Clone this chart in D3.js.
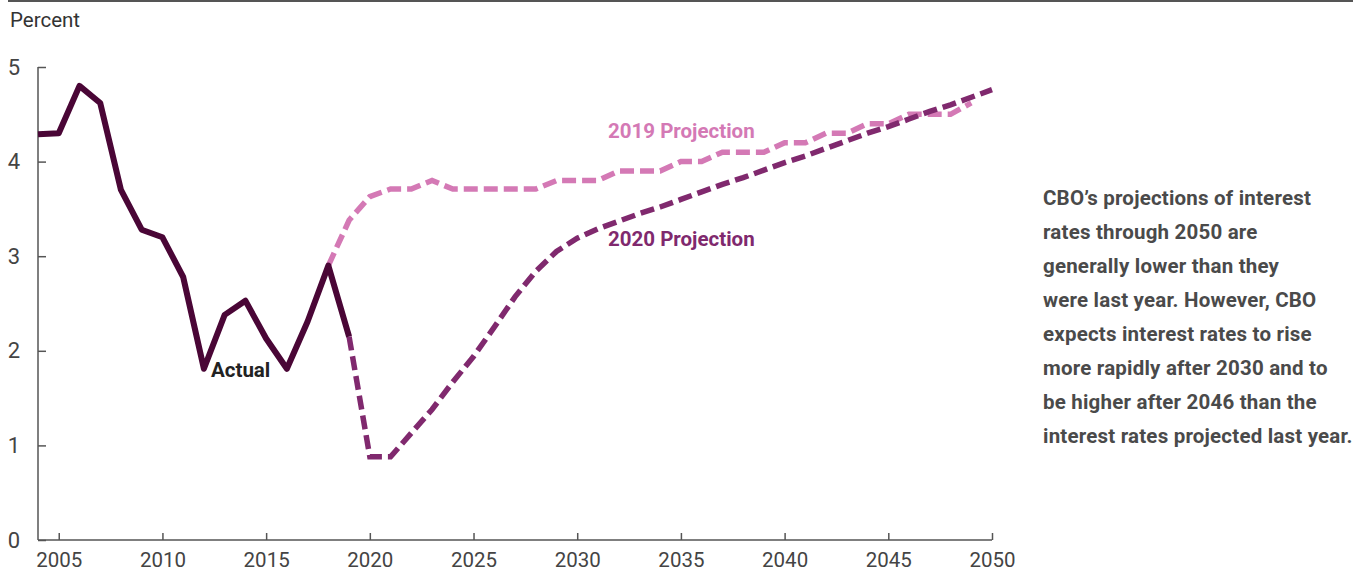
<!DOCTYPE html>
<html>
<head>
<meta charset="utf-8">
<script src="https://cdn.jsdelivr.net/npm/d3@7"></script>
<style>
    body { margin: 0; background: #fff; }
    text { font-family: Roboto, "Open Sans", sans-serif; }
    .axis path, .axis line { stroke: #555; stroke-width: 1.5; }
    .axis text { fill: #444; font-size: 20.5px; }
    .note { fill: #4a4a4a; font-size: 20.5px; font-weight: 700; letter-spacing: 0.2px; }
</style>
</head>
<body>
<script>
//wrap everything in a self-executing anonymous function
(function(){

//data
var actualYears = [2004, 2005, 2006, 2007, 2008, 2009, 2010, 2011, 2012, 2013, 2014, 2015, 2016, 2017, 2018, 2019];
var actualValues = [4.29, 4.3, 4.8, 4.62, 3.7, 3.28, 3.2, 2.78, 1.81, 2.38, 2.53, 2.13, 1.81, 2.31, 2.9, 2.15];

var proj2019Years = [2018, 2019, 2020, 2021, 2022, 2023, 2024, 2025, 2026, 2027, 2028, 2029, 2030, 2031, 2032, 2033,
    2034, 2035, 2036, 2037, 2038, 2039, 2040, 2041, 2042, 2043, 2044, 2045, 2046, 2047, 2048, 2049];
var proj2019Values = [2.9, 3.38, 3.63, 3.71, 3.71, 3.8, 3.71, 3.71, 3.71, 3.71, 3.71, 3.8, 3.8, 3.8, 3.9, 3.9,
    3.9, 4.0, 4.0, 4.1, 4.1, 4.1, 4.2, 4.2, 4.3, 4.3, 4.4, 4.4, 4.5, 4.5, 4.5, 4.62];

var proj2020Years = [2019, 2020, 2021, 2022, 2023, 2024, 2025, 2026, 2027, 2028, 2029, 2030, 2031, 2032, 2033, 2034,
    2035, 2036, 2037, 2038, 2039, 2040, 2041, 2042, 2043, 2044, 2045, 2046, 2047, 2048, 2049, 2050];
var proj2020Values = [2.15, 0.88, 0.88, 1.13, 1.38, 1.67, 1.94, 2.25, 2.57, 2.84, 3.05, 3.19, 3.29, 3.37, 3.45, 3.52,
    3.6, 3.68, 3.76, 3.83, 3.91, 3.99, 4.06, 4.14, 4.22, 4.3, 4.37, 4.45, 4.53, 4.6, 4.68, 4.76];

var xTicks = [2005, 2010, 2015, 2020, 2025, 2030, 2035, 2040, 2045, 2050];
var yTicks = [0, 1, 2, 3, 4, 5];

var noteLines = [
    "CBO\u2019s projections of interest",
    "rates through 2050 are",
    "generally lower than they",
    "were last year. However, CBO",
    "expects interest rates to rise",
    "more rapidly after 2030 and to",
    "be higher after 2046 than the",
    "interest rates projected last year."
];

window.onload = setChart();

function setChart(){
    //frame dimensions
    var width = 1353,
        height = 576;

    var svg = d3.select("body")
        .append("svg")
        .attr("width", width)
        .attr("height", height);

    //rule across the top
    svg.append("line")
        .attr("x1", 8)
        .attr("x2", width)
        .attr("y1", 1)
        .attr("y2", 1)
        .attr("stroke", "#555")
        .attr("stroke-width", 2);

    //scales
    var x = d3.scaleLinear()
        .domain([2004, 2050])
        .range([38, 992]);

    var y = d3.scaleLinear()
        .domain([0, 5])
        .range([540, 67]);

    //unit label
    svg.append("text")
        .attr("x", 10)
        .attr("y", 27)
        .attr("fill", "#333")
        .style("font-size", "20.5px")
        .text("Percent");

    //y axis, ticks point into the plot
    var yAxis = svg.append("g")
        .attr("class", "axis")
        .attr("transform", "translate(38,0)")
        .call(d3.axisRight(y).tickValues(yTicks).tickSize(8).tickSizeOuter(0).tickFormat(d3.format("d")));
    yAxis.select(".domain").remove();
    yAxis.append("line")
        .attr("y1", y(5))
        .attr("y2", y(0));
    yAxis.selectAll("text")
        .attr("x", -24)
        .attr("text-anchor", "middle")
        .style("font-size", "22px");

    //x axis, ticks point up
    var xAxis = svg.append("g")
        .attr("class", "axis")
        .attr("transform", "translate(0,540)")
        .call(d3.axisTop(x).tickValues(xTicks).tickSize(7).tickSizeOuter(0).tickFormat(d3.format("d")));
    xAxis.select(".domain").remove();
    xAxis.append("line")
        .attr("x1", x(2004))
        .attr("x2", x(2050));
    xAxis.selectAll("text")
        .attr("y", 27)
        .attr("dy", "0");

    //line generator
    var line = d3.line()
        .x(function(d){ return x(d[0]); })
        .y(function(d){ return y(d[1]); });

    function pairs(years, values){
        return years.map(function(yr, i){ return [yr, values[i]]; });
    };

    //2019 projection
    svg.append("path")
        .datum(pairs(proj2019Years, proj2019Values))
        .attr("fill", "none")
        .attr("stroke", "#d479b5")
        .attr("stroke-width", 5.5)
        .attr("stroke-dasharray", "14,6")
        .attr("d", line);

    //2020 projection
    svg.append("path")
        .datum(pairs(proj2020Years, proj2020Values))
        .attr("fill", "none")
        .attr("stroke", "#80296e")
        .attr("stroke-width", 5.5)
        .attr("stroke-dasharray", "14,6")
        .attr("d", line);

    //actual
    svg.append("path")
        .datum(pairs(actualYears, actualValues))
        .attr("fill", "none")
        .attr("stroke", "#4a0636")
        .attr("stroke-width", 6)
        .attr("stroke-linejoin", "round")
        .attr("d", line);

    //series labels
    var labels = [
        { text: "2019 Projection", x: 608, y: 138, color: "#d479b5" },
        { text: "2020 Projection", x: 608, y: 246, color: "#80296e" },
        { text: "Actual", x: 211, y: 377, color: "#222" }
    ];
    svg.selectAll(".seriesLabel")
        .data(labels)
        .enter()
        .append("text")
        .attr("class", "seriesLabel")
        .attr("x", function(d){ return d.x; })
        .attr("y", function(d){ return d.y; })
        .attr("fill", function(d){ return d.color; })
        .style("font-size", "20.5px")
        .style("font-weight", 700)
        .text(function(d){ return d.text; });

    //note on the right
    svg.selectAll(".note")
        .data(noteLines)
        .enter()
        .append("text")
        .attr("class", "note")
        .attr("x", 1043)
        .attr("y", function(d, i){ return 205 + i * 34; })
        .text(function(d){ return d; });
};

})();
</script>
</body>
</html>
